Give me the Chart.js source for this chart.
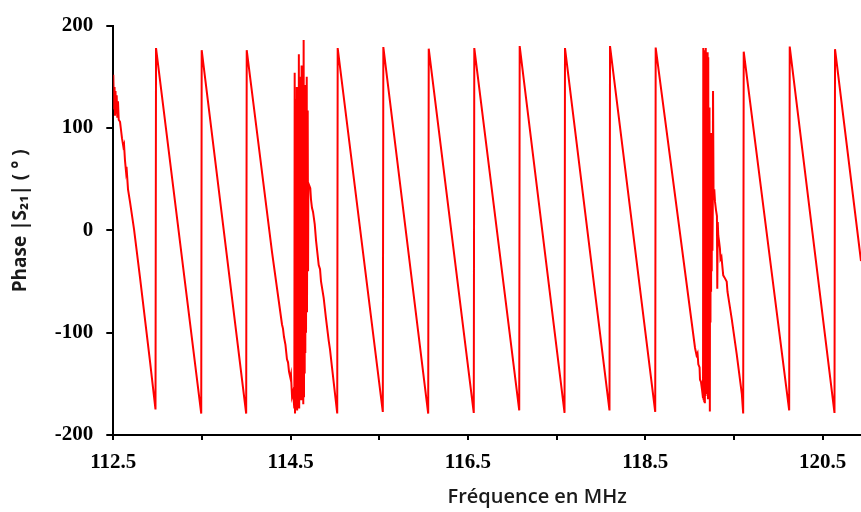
<!DOCTYPE html>
<html>
<head>
<meta charset="utf-8">
<script src="https://cdn.jsdelivr.net/npm/chart.js@4.4.1/dist/chart.umd.min.js"></script>
<style>
  html, body { margin: 0; padding: 0; background: #ffffff; }
  #wrap { width: 861px; height: 512px; }
</style>
</head>
<body>
<div id="wrap"><canvas id="c" width="861" height="512"></canvas></div>
<script>
// Frequency (MHz) and phase (degrees)
const freqMHz = [
  112.500,112.508,112.514,112.519,112.525,112.530,112.538,112.545,112.553,112.561,
  112.576,112.587,112.598,112.613,112.621,112.632,112.643,112.649,112.666,112.688,
  112.734,112.801,112.914,112.976,112.982,
  113.492,113.497,
  113.999,114.005,
  114.290,114.403,114.414,114.425,114.442,114.459,114.471,114.482,114.497,114.504,
  114.516,114.527,114.542,
  114.546,114.550,114.554,114.558,114.562,114.566,114.570,114.574,114.578,114.582,
  114.586,114.590,114.593,114.597,114.601,114.605,114.609,114.613,114.616,114.620,
  114.624,114.628,114.632,114.636,114.639,114.643,114.647,114.651,114.655,114.659,
  114.662,114.666,114.670,114.674,114.678,114.682,114.685,114.689,114.693,114.697,
  114.700,
  114.722,114.730,114.741,114.753,114.772,114.787,114.817,114.832,114.843,114.873,
  114.899,114.930,114.944,114.967,
  115.026,115.031,
  115.540,115.546,
  116.052,116.058,
  116.566,116.572,
  117.079,117.084,
  117.590,117.595,
  118.097,118.103,
  118.613,118.618,
  119.062,119.079,119.090,119.099,119.113,119.118,119.129,119.141,119.152,
  119.155,119.159,119.162,119.166,119.169,119.173,119.176,119.180,119.183,119.187,
  119.190,119.194,119.197,119.201,119.204,119.208,119.211,119.215,119.218,119.222,
  119.225,119.229,119.232,119.236,119.239,119.243,119.246,119.250,119.254,119.258,
  119.262,119.265,119.271,
  119.279,119.287,119.298,119.309,119.313,119.318,119.324,119.332,119.343,119.349,
  119.360,119.380,119.394,119.419,119.428,119.475,119.532,119.590,
  119.605,119.611,
  120.124,120.130,
  120.635,120.641,
  120.934
];
const phaseDeg = [
  152,118,140,112,136,114,132,110,126,108,
  106,98,90,82,84,68,58,62,40,28,
  1,-46,-128,-175,178,
  -179,176,
  -179,176,
  -21,-92,-96,-104,-112,-126,-129,-138,-144,-141,
  -162,-158,-174,
  154,-179,120,-175,128,-172,140,-176,100,-170,
  110,-168,172,-174,90,-165,132,-160,150,-166,
  161,-150,105,-160,120,-170,186,-163,95,-140,
  142,-120,130,-100,80,150,-80,100,117,-40,
  46,
  41,30,22,18,6,-10,-34,-38,-50,-66,
  -86,-108,-116,-134,
  -179,178,
  -177.5,179,
  -179,177.5,
  -178.5,178,
  -176,180,
  -178.5,178,
  -176,180,
  -177.5,178.5,
  -115,-122,-120,-131,-134,-146,-148,-156,-164,
  178,-166,150,-168,176,-169,140,-162,178,-160,
  172,-150,130,-155,174,-165,169,-140,100,-130,
  120,-177,68,-90,50,-60,95,-40,60,-20,
  20,136,30,
  40,28,20,14,-57,8,-5,-10,-18,-28,
  -26,-44,-46,-50,-60,-86,-121,-160,
  -179,174.5,
  -176,179.5,
  -178.5,177,
  -30
];
const xTickValues = [112.5, 113.5, 114.5, 115.5, 116.5, 117.5, 118.5, 119.5, 120.5];
const xTickLabels = ['112.5', '', '114.5', '', '116.5', '', '118.5', '', '120.5'];
const yTickValues = [-200, -100, 0, 100, 200];
const xTitle = '\u2002\u2002\u2002\u2002\u2002\u2002\u2002\u2002\u2002\u2002Fréquence en MHz';
const yTitle = '\u2002\u2002Phase |S\u2082\u2081| ( ° )';

const points = freqMHz.map((f, i) => ({ x: f, y: phaseDeg[i] }));

new Chart(document.getElementById('c').getContext('2d'), {
  type: 'line',
  data: {
    datasets: [{
      data: points,
      borderColor: '#ff0000',
      borderWidth: 2,
      borderDash: [10000, 0],
      pointRadius: 0,
      tension: 0,
      fill: false
    }]
  },
  options: {
    responsive: false,
    animation: false,
    devicePixelRatio: 1,
    layout: { padding: { top: 21, right: 0, left: 0, bottom: 0 } },
    plugins: { legend: { display: false }, tooltip: { enabled: false } },
    scales: {
      x: {
        type: 'linear',
        min: 112.5,
        max: 120.934,
        afterBuildTicks: (s) => { s.ticks = xTickValues.map(v => ({ value: v })); },
        afterFit: (s) => { s.height = 77; },
        grid: { display: true, drawOnChartArea: false, drawTicks: true, tickLength: 5, lineWidth: 2, color: '#000' },
        border: { display: true, color: '#000', width: 2 },
        ticks: {
          autoSkip: false, maxRotation: 0, minRotation: 0, padding: 10, color: '#000',
          font: { family: '"Liberation Serif", "Times New Roman", serif', size: 21, weight: 'bold' },
          callback: (v, i) => xTickLabels[i]
        },
        title: {
          display: true, text: xTitle, color: '#1a1a1a',
          font: { family: '"Open Sans", "Noto Sans", sans-serif', size: 20, weight: '600' },
          padding: { top: 0, bottom: 3 }
        }
      },
      y: {
        min: -200,
        max: 200,
        afterBuildTicks: (s) => { s.ticks = yTickValues.map(v => ({ value: v })); },
        afterFit: (s) => { s.width = 113.3; },
        grid: { display: true, drawOnChartArea: false, drawTicks: true, tickLength: 7, lineWidth: 2, color: '#000' },
        border: { display: true, color: '#000', width: 2 },
        ticks: {
          padding: 13, color: '#000',
          font: { family: '"Liberation Serif", "Times New Roman", serif', size: 21, weight: 'bold' }
        },
        title: {
          display: true, text: yTitle, color: '#1a1a1a',
          font: { family: '"Open Sans", "Noto Sans", sans-serif', size: 19, weight: 'bold' },
          padding: { top: 9, bottom: 0 }
        }
      }
    }
  }
});
</script>
</body>
</html>
